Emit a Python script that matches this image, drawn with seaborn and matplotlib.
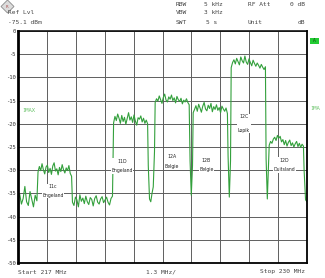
import numpy as np
import pandas as pd
import matplotlib
matplotlib.use("Agg")
import matplotlib.pyplot as plt
import seaborn as sns
from matplotlib.patches import Polygon, Rectangle

# ---------------- data ----------------
start_mhz = 217.0
stop_mhz = 230.0
span_div = "1.3 MHz/"
y_tick_values = [0, -5, -10, -15, -20, -25, -30, -35, -40, -45, -50]
y_tick_labels = ["0", "-5", "-10", "-15", "-20", "-25", "-30", "-35", "-40", "-45", "-50"]

# trace segments: (start MHz, stop MHz, levels in dB)
noise_a = [-36.6, -35.2, -37.3, -36.1, -33.5, -36.8, -37.6, -34.6, -36.3, -37.9, -35.4, -36.6]
block_11c = [-30.4, -29.2, -30.1, -28.6, -29.9, -30.8, -29.3, -28.9, -30.5, -29.6, -30.9, -29.1, -28.4,
             -30.2, -29.7, -31.0, -29.4, -30.3, -28.8, -29.9, -30.6, -29.5, -30.1, -29.0, -30.7, -31.3]
noise_b = [-36.9, -37.6, -35.8, -36.4, -37.9, -35.3, -36.7, -36.0, -37.2, -35.6, -36.8, -37.4, -35.9, -36.3,
           -37.7, -36.1, -35.5, -36.9, -37.3, -36.2, -35.7, -37.0, -36.4, -35.8, -36.9, -37.5, -36.1, -35.6]
block_11d = [-19.8, -18.4, -19.3, -17.9, -18.8, -19.9, -18.2, -19.5, -18.6, -20.1, -18.9, -17.6, -19.2,
             -18.5, -19.7, -18.1, -19.4, -20.3, -18.7, -19.0, -18.3, -19.6, -18.8, -19.9, -19.2, -20.0]
gap_1 = [-29.0, -36.2, -36.8, -35.0, -33.6, -26.0]
block_12a = [-15.4, -14.6, -15.1, -14.0, -14.8, -15.6, -14.3, -13.6, -14.9, -15.3, -14.2, -14.7, -13.8,
             -15.0, -14.4, -15.5, -14.1, -14.8, -15.2, -14.5, -15.7, -14.9, -15.3, -14.6, -15.4, -15.9]
gap_2 = [-28.0, -35.4, -29.0]
block_12b = [-17.6, -16.9, -16.1, -17.3, -15.8, -16.6, -17.5, -16.2, -15.4, -16.8, -17.2, -16.0, -16.7,
             -15.6, -17.4, -16.3, -16.9, -15.9, -17.1, -16.5, -17.6, -16.2, -16.8, -17.3, -16.6, -17.8]
gap_3 = [-27.0, -35.8, -28.0]
block_12c = [-7.9, -6.8, -6.2, -7.1, -5.9, -6.6, -7.3, -5.6, -6.4, -6.9, -5.4, -6.7, -7.2,
             -6.0, -6.8, -7.5, -6.3, -7.0, -7.6, -6.9, -7.4, -8.0, -7.2, -7.8, -8.3, -7.7]
gap_4 = [-27.5, -36.2, -28.5]
block_12d = [-24.6, -23.8, -24.2, -23.3, -22.9, -23.6, -22.5, -23.1, -22.7, -23.9, -23.4, -24.5, -23.6,
             -24.8, -24.0, -23.5, -24.7, -24.1, -25.0, -24.3, -23.8, -24.9, -24.2, -25.1, -24.4, -24.8]
tail = [-30.0, -36.4, -36.8]

segments = [
    (217.00, 217.85, noise_a),
    (217.90, 219.41, block_11c),
    (219.45, 221.25, noise_b),
    (221.30, 222.83, block_11d),
    (222.86, 223.14, gap_1),
    (223.17, 224.70, block_12a),
    (224.74, 224.85, gap_2),
    (224.88, 226.42, block_12b),
    (226.45, 226.56, gap_3),
    (226.59, 228.13, block_12c),
    (228.16, 228.27, gap_4),
    (228.30, 229.84, block_12d),
    (229.87, 230.00, tail),
]

channel_names = ["11c", "11D", "12A", "12B", "12C", "12D"]
channel_regions = ["Engeland", "Engeland", "Belgie", "Belgie", "Lopik", "Duitsland"]

# ---------------- build frame ----------------
freqs, levels = [], []
for f0, f1, lv in segments:
    freqs.extend(np.linspace(f0, f1, len(lv)))
    levels.extend(lv)
df = pd.DataFrame({"freq": freqs, "level": levels})

# ---------------- figure ----------------
sns.set_style("white")
plt.rcParams["font.family"] = ["DejaVu Sans Mono", "DejaVu Sans"]

W, H = 325, 278
fig = plt.figure(figsize=(W / 100, H / 100), dpi=100)
fig.patch.set_facecolor("white")
ax = fig.add_axes([18 / W, 15 / H, 289 / W, 232 / H])

sns.lineplot(data=df, x="freq", y="level", ax=ax, color="#33a03c",
             linewidth=0.8, estimator=None, sort=False)

ax.set_xlim(start_mhz, stop_mhz)
ax.set_ylim(-50, 0)
ax.set_xticks(np.linspace(start_mhz, stop_mhz, 11))
ax.set_xticklabels([])
ax.set_yticks(y_tick_values)
ax.set_yticklabels(y_tick_labels, fontsize=4.0, color="#333333")
ax.tick_params(axis="both", length=0, pad=1.5)
ax.set_xlabel("")
ax.set_ylabel("")
ax.grid(True, color="#5e5e5e", linewidth=0.7)
ax.set_axisbelow(True)
for side, lw in [("left", 2.0), ("bottom", 1.3), ("right", 1.3), ("top", 1.1)]:
    ax.spines[side].set_visible(True)
    ax.spines[side].set_color("black")
    ax.spines[side].set_linewidth(lw)

# channel labels (x px, mid y px, gap px)
label_layout = [(53, 191, 10), (122, 166, 12), (172, 161.5, 11),
                (206.5, 165, 10), (244, 123.5, 17), (284.5, 165, 12)]
fs = 3.3
for name, region, (xp, yp, gap) in zip(channel_names, channel_regions, label_layout):
    fx = start_mhz + (xp - 18) / 289 * (stop_mhz - start_mhz)
    dy = -(yp - 31) / 232 * 50
    ls = gap / (fs * 100 / 72 * 1.17)
    ax.text(fx, dy, name + "\n" + region, ha="center", va="center", fontsize=fs,
            family="DejaVu Sans", color="#222222", linespacing=ls, zorder=5,
            bbox=dict(facecolor="white", edgecolor="none", pad=0.4))

# ---------------- header / footer texts ----------------
def ftext(x, y, s, ha="left", color="#444444", size=4.5, **kw):
    fig.text(x / W, 1 - y / H, s, ha=ha, va="center", color=color, fontsize=size, **kw)

ftext(8, 13, "Ref Lvl")
ftext(8, 23, "-75.1 dBm")
ftext(176, 4, "RBW")
ftext(204, 4, "5 kHz")
ftext(248, 4, "RF Att")
ftext(305, 4, "0 dB", ha="right")
ftext(176, 13, "VBW")
ftext(204, 13, "3 kHz")
ftext(176, 23, "SWT")
ftext(206, 23, "5 s")
ftext(248, 23, "Unit")
ftext(305, 23, "dB", ha="right")
ftext(18, 272, "Start 217 MHz")
ftext(161, 272, span_div, ha="center")
ftext(305, 272, "Stop 230 MHz", ha="right")
ftext(22, 110, "1MAX", color="#6cc46c", size=4.0)
ftext(310, 109, "1MA", color="#6cc46c", size=4.0)

# green "A" box
fig.patches.append(Rectangle((310 / W, 1 - 44 / H), 9 / W, 6 / H, transform=fig.transFigure,
                             facecolor="#22cc33", edgecolor="none"))
ftext(314.5, 41, "A", ha="center", color="#114411", size=3.3)

# logo diamond
cx, cy, r = 7.5, 6.5, 6.5
pts = [((cx) / W, 1 - (cy - r) / H), ((cx + r) / W, 1 - cy / H),
       ((cx) / W, 1 - (cy + r) / H), ((cx - r) / W, 1 - cy / H)]
fig.patches.append(Polygon(pts, closed=True, transform=fig.transFigure,
                           facecolor="#dcdcdc", edgecolor="#8a8a8a", linewidth=0.6))
ftext(7.5, 6.5, "R", ha="center", color="#aa5555", size=3.2)

fig.savefig("out.png", dpi=100, facecolor="white")
